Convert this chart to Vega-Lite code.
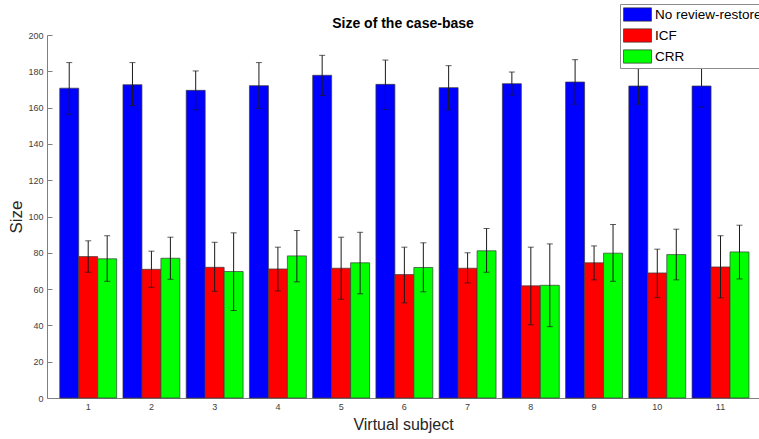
{
  "$schema": "https://vega.github.io/schema/vega-lite/v6.json",
  "width": 712,
  "height": 363,
  "autosize": {"type": "none"},
  "padding": {"left": 47, "top": 35, "right": 0, "bottom": 41},
  "background": "white",
  "title": {
    "text": "Size of the case-base",
    "font": "Liberation Sans",
    "fontSize": 14,
    "fontWeight": "bold",
    "color": "#000000",
    "anchor": "middle",
    "frame": "group",
    "baseline": "alphabetic",
    "offset": -38
  },
  "config": {
    "view": {"stroke": null},
    "font": "Liberation Sans"
  },
  "resolve": {"axis": {"y": "independent"}},
  "data": {
    "values": [
      {"subject": "1", "method": "No review-restore", "size": 170.7, "lo": 156.4, "hi": 184.8},
      {"subject": "1", "method": "ICF", "size": 77.9, "lo": 69.3, "hi": 86.6},
      {"subject": "1", "method": "CRR", "size": 76.7, "lo": 64.3, "hi": 89.4},
      {"subject": "2", "method": "No review-restore", "size": 172.6, "lo": 161.1, "hi": 184.8},
      {"subject": "2", "method": "ICF", "size": 70.9, "lo": 61.0, "hi": 80.9},
      {"subject": "2", "method": "CRR", "size": 77.0, "lo": 65.4, "hi": 88.6},
      {"subject": "3", "method": "No review-restore", "size": 169.5, "lo": 158.8, "hi": 180.2},
      {"subject": "3", "method": "ICF", "size": 72.0, "lo": 58.8, "hi": 85.8},
      {"subject": "3", "method": "CRR", "size": 69.7, "lo": 48.2, "hi": 91.0},
      {"subject": "4", "method": "No review-restore", "size": 172.1, "lo": 159.6, "hi": 184.8},
      {"subject": "4", "method": "ICF", "size": 71.1, "lo": 59.0, "hi": 83.1},
      {"subject": "4", "method": "CRR", "size": 78.3, "lo": 64.0, "hi": 92.3},
      {"subject": "5", "method": "No review-restore", "size": 177.8, "lo": 166.7, "hi": 188.8},
      {"subject": "5", "method": "ICF", "size": 71.5, "lo": 54.4, "hi": 88.6},
      {"subject": "5", "method": "CRR", "size": 74.5, "lo": 57.4, "hi": 91.3},
      {"subject": "6", "method": "No review-restore", "size": 172.8, "lo": 159.0, "hi": 186.2},
      {"subject": "6", "method": "ICF", "size": 68.0, "lo": 52.4, "hi": 83.1},
      {"subject": "6", "method": "CRR", "size": 71.9, "lo": 58.5, "hi": 85.5},
      {"subject": "7", "method": "No review-restore", "size": 171.0, "lo": 158.8, "hi": 183.1},
      {"subject": "7", "method": "ICF", "size": 71.5, "lo": 63.4, "hi": 80.0},
      {"subject": "7", "method": "CRR", "size": 81.1, "lo": 69.3, "hi": 93.4},
      {"subject": "8", "method": "No review-restore", "size": 173.2, "lo": 166.9, "hi": 179.6},
      {"subject": "8", "method": "ICF", "size": 61.8, "lo": 40.3, "hi": 83.1},
      {"subject": "8", "method": "CRR", "size": 62.1, "lo": 39.3, "hi": 84.9},
      {"subject": "9", "method": "No review-restore", "size": 174.1, "lo": 161.9, "hi": 186.4},
      {"subject": "9", "method": "ICF", "size": 74.5, "lo": 65.1, "hi": 83.8},
      {"subject": "9", "method": "CRR", "size": 79.8, "lo": 64.3, "hi": 95.6},
      {"subject": "10", "method": "No review-restore", "size": 171.9, "lo": 161.9, "hi": 181.5},
      {"subject": "10", "method": "ICF", "size": 68.9, "lo": 55.3, "hi": 82.0},
      {"subject": "10", "method": "CRR", "size": 79.0, "lo": 65.1, "hi": 93.0},
      {"subject": "11", "method": "No review-restore", "size": 171.9, "lo": 160.3, "hi": 183.3},
      {"subject": "11", "method": "ICF", "size": 72.2, "lo": 55.2, "hi": 89.4},
      {"subject": "11", "method": "CRR", "size": 80.5, "lo": 65.6, "hi": 95.2}
    ]
  },
  "encoding": {
    "x": {
      "field": "subject",
      "type": "ordinal",
      "sort": ["1", "2", "3", "4", "5", "6", "7", "8", "9", "10", "11"],
      "scale": {"paddingInner": 0.1, "paddingOuter": 0.18, "align": 0.56},
      "axis": {
        "title": "Virtual subject",
        "titleFont": "Liberation Sans",
        "titleFontSize": 16,
        "titleFontWeight": "normal",
        "titleColor": "#262626",
        "titlePadding": 5,
        "labelAngle": 0,
        "labelFont": "Liberation Sans",
        "labelFontSize": 9,
        "labelColor": "#404040",
        "labelPadding": 9,
        "domainColor": "#7f7f7f",
        "tickColor": "#7f7f7f",
        "tickSize": -5,
        "grid": false
      }
    },
    "xOffset": {
      "field": "method",
      "type": "nominal",
      "scale": {"domain": ["No review-restore", "ICF", "CRR"], "paddingInner": 0, "paddingOuter": 0}
    }
  },
  "layer": [
    {
      "mark": {"type": "bar", "stroke": "#3a3a3a", "strokeWidth": 0.7},
      "encoding": {
        "y": {
          "field": "size",
          "type": "quantitative",
          "scale": {"domain": [0, 200], "nice": false},
          "axis": {
            "title": "Size",
            "titleFont": "Liberation Sans",
            "titleFontSize": 17,
            "titleFontWeight": "normal",
            "titleColor": "#262626",
            "titlePadding": 2,
            "values": [0, 20, 40, 60, 80, 100, 120, 140, 160, 180, 200],
            "labelOverlap": false,
            "labelFont": "Liberation Sans",
            "labelFontSize": 9,
            "labelColor": "#404040",
            "labelPadding": 9,
            "domainColor": "#7f7f7f",
            "tickColor": "#7f7f7f",
            "tickSize": -5,
            "grid": false
          }
        },
        "color": {
          "field": "method",
          "type": "nominal",
          "scale": {
            "domain": ["No review-restore", "ICF", "CRR"],
            "range": ["#0000ff", "#ff0000", "#00ff00"]
          },
          "legend": {
            "title": null,
            "orient": "none",
            "legendX": 573,
            "legendY": -31,
            "direction": "vertical",
            "fillColor": "#ffffff",
            "strokeColor": "#8c8c8c",
            "padding": 3,
            "rowPadding": 4,
            "symbolType": "M-1,-0.95H3V0.95H-1Z",
            "symbolSize": 196,
            "symbolStrokeColor": "#333333",
            "symbolStrokeWidth": 0.7,
            "symbolOpacity": 1,
            "labelFont": "Liberation Sans",
            "labelFontSize": 13.5,
            "labelColor": "#000000",
            "labelOffset": 17,
            "labelLimit": 300
          }
        }
      }
    },
    {
      "mark": {"type": "rule", "color": "#1a1a1a", "strokeWidth": 1},
      "encoding": {
        "y": {"field": "lo", "type": "quantitative", "axis": null},
        "y2": {"field": "hi"}
      }
    },
    {
      "mark": {"type": "tick", "color": "#1a1a1a", "size": 6, "thickness": 1},
      "encoding": {
        "y": {"field": "lo", "type": "quantitative", "axis": null}
      }
    },
    {
      "mark": {"type": "tick", "color": "#1a1a1a", "size": 6, "thickness": 1},
      "encoding": {
        "y": {"field": "hi", "type": "quantitative", "axis": null}
      }
    }
  ]
}
